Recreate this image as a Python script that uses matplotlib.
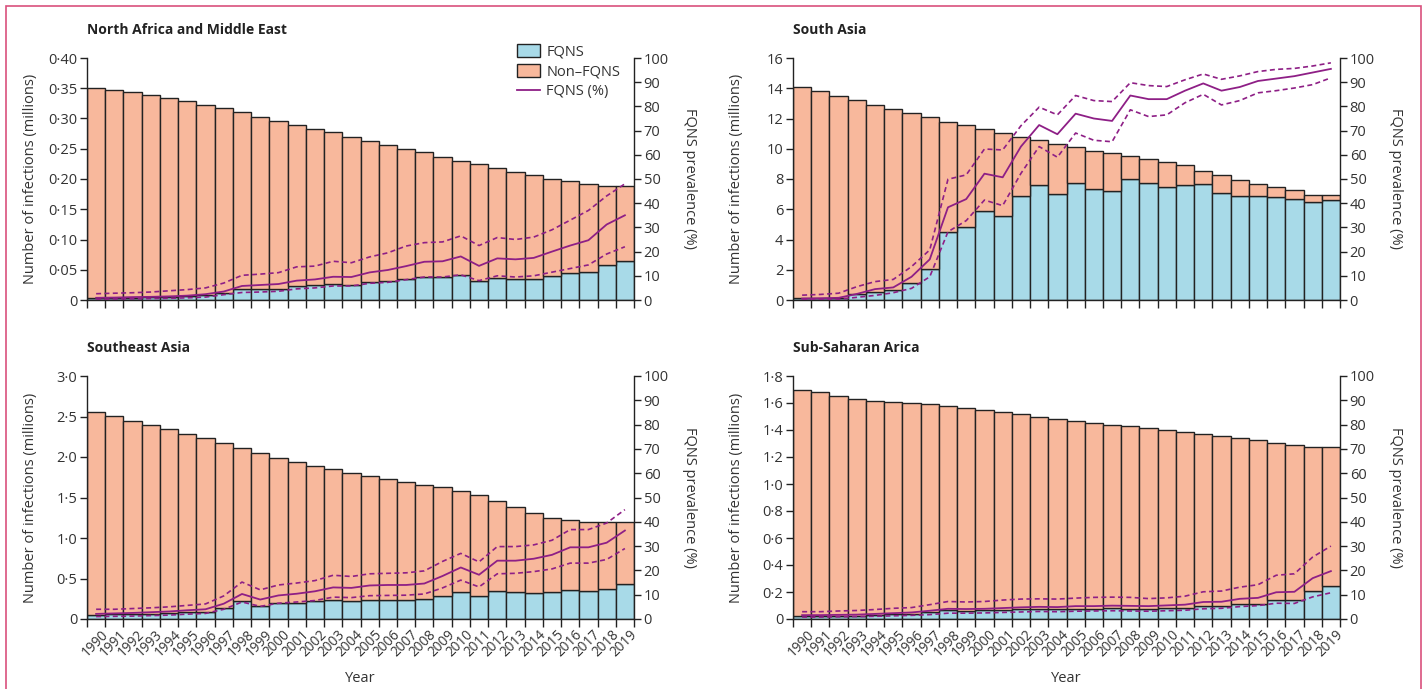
import numpy as np
import matplotlib
matplotlib.use("Agg")
import matplotlib.pyplot as plt
from matplotlib.patches import Patch, Rectangle
from matplotlib.lines import Line2D
from matplotlib.ticker import FuncFormatter

plt.rcParams["font.family"] = ["Open Sans", "DejaVu Sans"]
plt.rcParams["text.color"] = "#333333"
plt.rcParams["axes.labelcolor"] = "#333333"
plt.rcParams["xtick.color"] = "#222222"
plt.rcParams["ytick.color"] = "#222222"
plt.rcParams["xtick.labelcolor"] = "#333333"
plt.rcParams["ytick.labelcolor"] = "#333333"

years = list(range(1990, 2020))

# North Africa and Middle East (millions, %)
name_total = [0.350, 0.347, 0.344, 0.339, 0.334, 0.329, 0.323, 0.317, 0.310, 0.303,
              0.296, 0.289, 0.283, 0.277, 0.270, 0.263, 0.257, 0.250, 0.244, 0.237,
              0.230, 0.224, 0.218, 0.212, 0.206, 0.200, 0.196, 0.192, 0.188, 0.188]
name_fqns = [0.003, 0.003, 0.004, 0.0045, 0.005, 0.006, 0.0077, 0.011, 0.0176, 0.018,
             0.019, 0.023, 0.024, 0.026, 0.025, 0.029, 0.031, 0.0346, 0.0385, 0.0385,
             0.041, 0.031, 0.036, 0.0346, 0.035, 0.039, 0.044, 0.047, 0.058, 0.065]
name_pct = [0.9, 1.0, 1.2, 1.3, 1.5, 1.8, 2.4, 3.5, 5.8, 6.2, 6.6, 8.0, 8.5, 9.6, 9.5,
            11.4, 12.4, 14.0, 15.8, 16.0, 18.0, 14.1, 17.2, 16.8, 17.4, 20.0, 22.5, 24.7, 31.2, 35.0]
name_hi = [2.6, 2.8, 3.0, 3.3, 3.8, 4.3, 5.0, 7.0, 10.2, 10.7, 11.3, 13.7, 14.0, 16.0, 15.4,
           17.8, 19.5, 22.3, 23.7, 24.0, 26.5, 22.5, 25.8, 25.0, 26.0, 29.0, 33.0, 37.0, 43.0, 48.0]
name_lo = [0.3, 0.4, 0.5, 0.6, 0.7, 0.9, 1.2, 2.2, 3.1, 3.3, 3.6, 4.6, 5.0, 5.8, 5.8,
           6.9, 7.3, 8.4, 9.5, 9.5, 10.4, 8.0, 10.0, 9.5, 10.0, 11.5, 13.0, 14.5, 19.0, 22.0]

# South Asia
sa_total = [14.1, 13.8, 13.5, 13.2, 12.9, 12.6, 12.35, 12.1, 11.8, 11.55, 11.3, 11.05,
            10.8, 10.55, 10.3, 10.1, 9.85, 9.7, 9.55, 9.3, 9.1, 8.9, 8.55, 8.25, 7.95,
            7.7, 7.5, 7.25, 6.95, 6.95]
sa_fqns = [0.1, 0.1, 0.13, 0.4, 0.55, 0.66, 1.15, 2.05, 4.52, 4.85, 5.9, 5.57, 6.85, 7.6,
           7.03, 7.75, 7.35, 7.2, 8.0, 7.75, 7.5, 7.6, 7.65, 7.1, 6.9, 6.9, 6.8, 6.7, 6.5, 6.6]
sa_pct = [0.6, 0.7, 0.9, 2.5, 4.5, 5.2, 9.6, 16.8, 38.3, 41.7, 52.2, 50.7, 63.4, 72.3, 68.5,
          77.0, 75.0, 74.0, 84.5, 83.0, 83.0, 86.5, 89.5, 86.5, 88.0, 90.5, 91.5, 92.5, 94.0, 95.5]
sa_hi = [2.0, 2.3, 2.8, 5.5, 7.6, 8.5, 13.8, 20.7, 49.9, 51.7, 62.4, 62.0, 72.0, 79.7, 76.5,
         84.5, 82.4, 82.0, 89.8, 88.6, 88.2, 91.0, 93.4, 91.2, 92.6, 94.4, 95.3, 95.7, 96.7, 98.0]
sa_lo = [0.2, 0.2, 0.3, 1.1, 1.9, 3.0, 4.8, 9.6, 28.2, 32.8, 41.3, 39.0, 52.3, 63.4, 59.0,
         69.0, 66.0, 65.4, 78.6, 75.8, 76.5, 81.5, 85.0, 80.6, 82.4, 85.6, 86.5, 87.6, 89.0, 91.8]

# Southeast Asia
sea_total = [2.56, 2.506, 2.45, 2.395, 2.34, 2.284, 2.23, 2.17, 2.107, 2.045, 1.99, 1.942,
             1.893, 1.852, 1.802, 1.765, 1.728, 1.695, 1.658, 1.625, 1.58, 1.53, 1.457,
             1.379, 1.309, 1.251, 1.218, 1.195, 1.195, 1.195]
sea_fqns = [0.05, 0.058, 0.062, 0.066, 0.074, 0.082, 0.086, 0.136, 0.218, 0.16, 0.193, 0.2,
            0.218, 0.239, 0.226, 0.239, 0.239, 0.235, 0.243, 0.288, 0.333, 0.28, 0.346,
            0.33, 0.32, 0.33, 0.362, 0.346, 0.374, 0.432]
sea_pct = [2.1, 2.3, 2.5, 2.8, 3.1, 3.6, 4.0, 6.3, 10.3, 8.0, 9.7, 10.4, 11.4, 13.0, 12.8,
           13.8, 14.0, 14.0, 14.6, 17.7, 21.2, 18.2, 24.0, 24.0, 24.8, 26.4, 29.5, 29.5, 31.4, 36.4]
sea_hi = [4.0, 4.0, 4.3, 4.6, 5.0, 5.6, 6.2, 9.5, 15.2, 12.0, 14.0, 14.8, 15.8, 18.0, 17.5,
          18.6, 18.8, 19.0, 19.8, 23.7, 27.0, 23.5, 29.8, 29.8, 30.5, 32.4, 36.8, 36.8, 39.5, 45.0]
sea_lo = [1.0, 1.1, 1.2, 1.4, 1.6, 2.0, 2.3, 4.0, 7.0, 5.2, 6.5, 7.0, 7.6, 9.0, 8.8,
          9.6, 9.7, 9.8, 10.3, 12.8, 16.0, 13.2, 18.6, 18.8, 19.5, 20.6, 23.0, 23.0, 24.5, 29.0]

# Sub-Saharan Africa
ssa_total = [1.699, 1.679, 1.652, 1.63, 1.615, 1.61, 1.602, 1.59, 1.575, 1.56, 1.548, 1.533,
             1.519, 1.499, 1.481, 1.467, 1.454, 1.44, 1.427, 1.415, 1.402, 1.388, 1.37,
             1.356, 1.341, 1.326, 1.304, 1.286, 1.272, 1.272]
ssa_fqns = [0.02, 0.02, 0.022, 0.022, 0.03, 0.035, 0.04, 0.052, 0.064, 0.062, 0.064, 0.067,
            0.072, 0.074, 0.072, 0.077, 0.077, 0.079, 0.077, 0.074, 0.079, 0.081, 0.096,
            0.096, 0.109, 0.114, 0.143, 0.143, 0.21, 0.247]
ssa_pct = [1.6, 1.6, 1.7, 1.8, 2.1, 2.4, 2.7, 3.4, 4.2, 4.1, 4.2, 4.5, 4.8, 5.0, 4.9,
           5.3, 5.3, 5.5, 5.4, 5.3, 5.6, 5.9, 7.0, 7.1, 8.3, 8.7, 11.0, 11.2, 16.8, 19.7]
ssa_hi = [3.0, 3.0, 3.3, 3.5, 3.9, 4.4, 4.7, 5.9, 7.2, 7.0, 7.2, 7.8, 8.2, 8.3, 8.2,
          8.6, 8.9, 9.0, 8.9, 8.4, 8.7, 9.4, 11.2, 11.5, 13.1, 14.1, 18.0, 18.6, 25.5, 30.0]
ssa_lo = [0.8, 0.8, 0.9, 1.0, 1.1, 1.3, 1.5, 1.8, 2.4, 2.4, 2.5, 2.7, 2.9, 3.1, 3.0,
          3.2, 3.3, 3.4, 3.3, 3.2, 3.4, 3.6, 4.2, 4.4, 5.1, 5.5, 6.5, 6.4, 9.1, 10.8]

blue = "#a8dae8"
salmon = "#f8b89c"
purple = "#8e1f86"
edge = "#222222"

W, H = 1427, 689
fig = plt.figure(figsize=(W / 100, H / 100), dpi=100)
fig.patch.set_facecolor("white")
fig.add_artist(Rectangle((6 / W, -0.05), (1421 - 6) / W, 1.05 - 6 / H,
                         transform=fig.transFigure, fill=False,
                         edgecolor="#d9507d", lw=1.2))


def px_rect(l, t, r, b):
    return [l / W, 1 - b / H, (r - l) / W, (b - t) / H]


def make_fmt(dec):
    def f(v, pos):
        if abs(v) < 1e-9:
            return "0"
        return f"{v:.{dec}f}".replace(".", "\u00b7")
    return FuncFormatter(f)


panels = [
    ("North Africa and Middle East", name_total, name_fqns, name_pct, name_lo, name_hi,
     0.40, 0.05, 2, (87, 58, 634, 300), False, True),
    ("South Asia", sa_total, sa_fqns, sa_pct, sa_lo, sa_hi,
     16, 2, 0, (793, 58, 1340, 300), False, False),
    ("Southeast Asia", sea_total, sea_fqns, sea_pct, sea_lo, sea_hi,
     3.0, 0.5, 1, (87, 376, 634, 619), True, False),
    ("Sub-Saharan Arica", ssa_total, ssa_fqns, ssa_pct, ssa_lo, ssa_hi,
     1.8, 0.2, 1, (793, 376, 1340, 619), True, False),
]

x = np.arange(len(years))
for title, total, fqns, pct, lo, hi, ymax, ystep, dec, rect, show_years, show_legend in panels:
    ax = fig.add_axes(px_rect(*rect))
    non = np.array(total) - np.array(fqns)
    ax.bar(x, fqns, width=1.0, color=blue, edgecolor=edge, linewidth=1.0)
    ax.bar(x, non, bottom=fqns, width=1.0, color=salmon, edgecolor=edge, linewidth=1.0)
    ax.set_xlim(-0.5, len(years) - 0.5)
    ax.set_ylim(0, ymax)
    ax.set_yticks(np.arange(0, ymax + ystep / 2, ystep))
    ax.yaxis.set_major_formatter(make_fmt(dec))
    ax.tick_params(axis="y", length=5, width=1, labelsize=10.5, pad=2)
    ax.set_xticks(np.arange(-0.5, len(years), 1.0), minor=True)
    ax.tick_params(axis="x", which="minor", length=6, width=1)
    ax.tick_params(axis="x", which="major", length=0, labelsize=9.8, pad=6)
    if show_years:
        ax.set_xticks(x + 0.25)
        ax.set_xticklabels([str(y) for y in years], rotation=45, ha="right",
                           rotation_mode="anchor")
        ax.set_xlabel("Year", fontsize=10.5, labelpad=8)
    else:
        ax.set_xticks([])
    for s in ("top", "right"):
        ax.spines[s].set_visible(False)
    for s in ("left", "bottom"):
        ax.spines[s].set_color(edge)
        ax.spines[s].set_linewidth(1.0)
    ax.set_ylabel("Number of infections (millions)", fontsize=10.5)
    ax.yaxis.set_label_coords(-49 / 547, 0.5)
    ax.text(0, 1 + 28 / 242, title, transform=ax.transAxes, fontsize=10,
            fontweight="bold", ha="left", va="center", color="#222222")

    tw = ax.twinx()
    tw.set_ylim(0, 100)
    tw.set_yticks(np.arange(0, 101, 10))
    tw.tick_params(axis="y", length=5, width=1, labelsize=10.5, pad=2)
    for s in ("top", "left", "bottom"):
        tw.spines[s].set_visible(False)
    tw.spines["right"].set_color(edge)
    tw.spines["right"].set_linewidth(1.0)
    tw.plot(x, pct, color=purple, lw=1.3)
    tw.plot(x, hi, color=purple, lw=1.2, ls=(0, (3, 2)))
    tw.plot(x, lo, color=purple, lw=1.2, ls=(0, (3, 2)))
    tw.set_ylabel("FQNS prevalence (%)", rotation=270, fontsize=10.5, va="center")
    tw.yaxis.set_label_coords(1 + 56 / 547, 0.5)

    if show_legend:
        handles = [Patch(facecolor=blue, edgecolor=edge, lw=1.0, label="FQNS"),
                   Patch(facecolor=salmon, edgecolor=edge, lw=1.0, label="Non\u2013FQNS"),
                   Line2D([], [], color=purple, lw=1.3, label="FQNS (%)")]
        tw.legend(handles=handles, loc="upper left",
                  bbox_to_anchor=((517 - 87) / 547, (300 - 44) / 242),
                  frameon=False, fontsize=10.5, handlelength=1.6, handleheight=1.0,
                  labelspacing=0.3, handletextpad=0.4, borderpad=0, borderaxespad=0)

fig.savefig("out.png", dpi=100)
